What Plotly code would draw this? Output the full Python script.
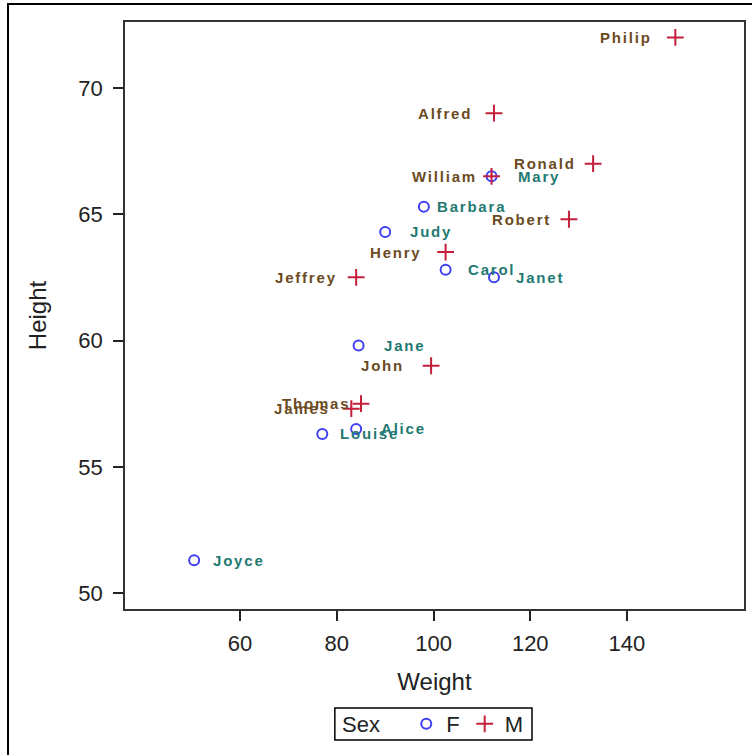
import plotly.graph_objects as go

# sashelp.class: name, sex, weight (lb), height (in)
names = ["Alfred", "Alice", "Barbara", "Carol", "Henry", "James", "Jane", "Janet",
         "Jeffrey", "John", "Joyce", "Judy", "Louise", "Mary", "Philip", "Robert",
         "Ronald", "Thomas", "William"]
sex = ["M", "F", "F", "F", "M", "M", "F", "F", "M", "M", "F", "F", "F", "F", "M",
       "M", "M", "M", "M"]
weight = [112.5, 84.0, 98.0, 102.5, 102.5, 83.0, 84.5, 112.5, 84.0, 99.5, 50.5,
          90.0, 77.0, 112.0, 150.0, 128.0, 133.0, 85.0, 112.0]
height = [69.0, 56.5, 65.3, 62.8, 63.5, 57.3, 59.8, 62.5, 62.5, 59.0, 51.3, 64.3,
          56.3, 66.5, 72.0, 64.8, 67.0, 57.5, 66.5]

# which side of the marker each name label sits on
label_side = {"Alfred": "left", "Alice": "right", "Barbara": "right", "Carol": "right",
              "Henry": "left", "James": "left", "Jane": "right", "Janet": "right",
              "Jeffrey": "left", "John": "left", "Joyce": "right", "Judy": "right",
              "Louise": "right", "Mary": "right", "Philip": "left", "Robert": "left",
              "Ronald": "left", "Thomas": "left", "William": "left"}
# pixel gap between marker and label
label_gap = {"Alfred": 20, "Alice": 23, "Barbara": 11, "Carol": 20, "Henry": 22,
             "James": 19, "Jane": 23, "Janet": 20, "Jeffrey": 17, "John": 25,
             "Joyce": 17, "Judy": 23, "Louise": 16, "Mary": 24, "Philip": 21,
             "Robert": 16, "Ronald": 15, "Thomas": 9, "William": 13}

groups = ["F", "M"]
marker_color = {"F": "#3f3ff5", "M": "#c41e3a"}
label_color = {"F": "#1f7a72", "M": "#6b4b1f"}
marker_symbol = {"F": "circle-open", "M": "cross-thin-open"}
marker_size = {"F": 10, "M": 12}

FONT = "Liberation Sans, Arial, sans-serif"
TEXT = "#222222"

fig = go.Figure()
for g in groups:
    idx = [i for i, s in enumerate(sex) if s == g]
    fig.add_trace(go.Scatter(
        x=[weight[i] for i in idx],
        y=[height[i] for i in idx],
        mode="markers",
        name=g,
        marker=dict(symbol=marker_symbol[g], size=marker_size[g],
                    color=marker_color[g],
                    line=dict(color=marker_color[g], width=2)),
        hovertext=[names[i] for i in idx],
    ))

annotations = []
for n, s, w, h in zip(names, sex, weight, height):
    side = label_side[n]
    gap = label_gap[n]
    annotations.append(dict(
        x=w, y=h, xref="x", yref="y",
        text=f'<span style="letter-spacing:1.8px">{n}</span>',
        showarrow=False,
        xanchor="right" if side == "left" else "left",
        yanchor="middle",
        xshift=-gap if side == "left" else gap,
        font=dict(family=FONT, size=15, color=label_color[s], weight="bold"),
    ))

fig.update_layout(
    width=752, height=755,
    margin=dict(l=125, r=8, t=22, b=146, autoexpand=False),
    paper_bgcolor="white",
    plot_bgcolor="white",
    font=dict(family=FONT, size=22, color=TEXT),
    annotations=annotations,
    showlegend=True,
    legend=dict(
        orientation="h",
        x=0.5, xanchor="center",
        y=-0.196, yanchor="middle",
        borderwidth=0,
        bgcolor="rgba(0,0,0,0)",
        title=dict(text="Sex   ", side="left", font=dict(size=22)),
        font=dict(size=22, color=TEXT),
        itemwidth=30,
        tracegroupgap=0,
    ),
    shapes=[
        # outer frame
        dict(type="rect", xref="paper", yref="paper",
             x0=-0.189, x1=1.05, y0=-0.26, y1=1.0307,
             line=dict(color="#000000", width=2), layer="below"),
        # legend box
        dict(type="rect", xref="paper", yref="paper",
             x0=0.339, x1=0.6575, y0=-0.2232, y1=-0.1687,
             line=dict(color="#000000", width=1.5), layer="below"),
    ],
)

fig.update_xaxes(
    range=[36.2, 164.2],
    tickvals=[60, 80, 100, 120, 140],
    ticks="outside", ticklen=10, tickwidth=1.5, tickcolor=TEXT,
    ticklabelstandoff=4, automargin=False,
    showgrid=False, zeroline=False,
    showline=True, linecolor="#333333", linewidth=1.5, mirror=True,
    tickfont=dict(size=22),
    title=dict(text="Weight", font=dict(size=24), standoff=18),
)
fig.update_yaxes(
    range=[49.37, 72.61],
    tickvals=[50, 55, 60, 65, 70],
    ticks="outside", ticklen=10, tickwidth=1.5, tickcolor=TEXT,
    ticklabelstandoff=6, automargin=False,
    showgrid=False, zeroline=False,
    showline=True, linecolor="#333333", linewidth=1.5, mirror=True,
    tickfont=dict(size=22),
    title=dict(text="Height", font=dict(size=24), standoff=25),
)

fig.write_html("out.html")
